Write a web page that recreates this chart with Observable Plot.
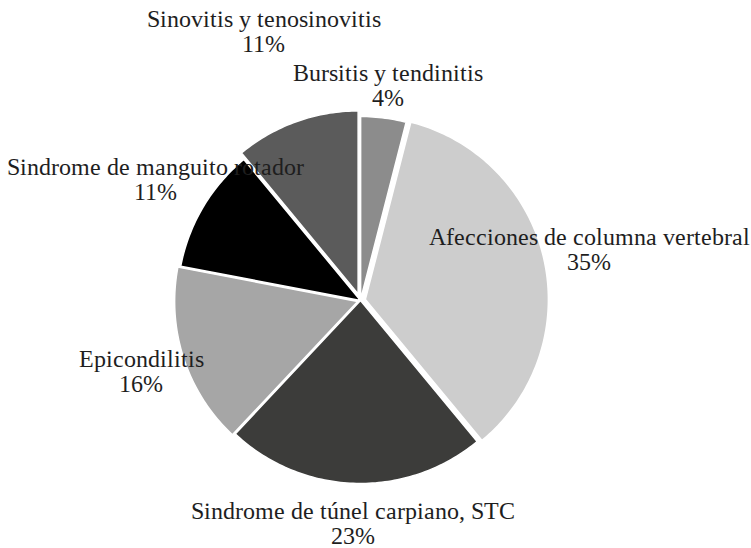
<!DOCTYPE html>
<html>
<head>
<meta charset="utf-8">
<script src="https://cdn.jsdelivr.net/npm/d3@7"></script>
<script src="https://cdn.jsdelivr.net/npm/@observablehq/plot@0.6"></script>
<style>
  @font-face {
    font-family: "SerifLocal";
    src: local("Liberation Serif"), local("LiberationSerif"), local("LiberationSerif-Regular");
  }
  html, body { margin: 0; padding: 0; background: #fff; font-family: "Liberation Serif", serif; }
  #chart svg { display: block; }
  #chart svg text { font-family: "SerifLocal", "Liberation Serif", serif; }
</style>
</head>
<body>
<div id="chart"></div>
<script>
// ---- Data ----
const categories = [
  "Bursitis y tendinitis",
  "Afecciones de columna vertebral",
  "Sindrome de túnel carpiano, STC",
  "Epicondilitis",
  "Sindrome de manguito rotador",
  "Sinovitis y tenosinovitis"
];
const percents = [4, 35, 23, 16, 11, 11];
const colors = ["#8c8c8c", "#cdcdcd", "#3c3c3a", "#a6a6a6", "#000000", "#5b5b5b"];

// ---- Layout (styles / positions, separate from data) ----
const W = 751, H = 548;
const CX = 360, CY = 300, R = 183;          // pie centre & radius in px
const explodePx = [1, 5, 0, 3, 0, 7];       // per-slice explosion in px
const labelRadius = [1.18, 1.28, 1.22, 1.26, 1.30, 1.56];
const LINE_GAP = 25;                          // px between label lines
const FONT = "SerifLocal, Liberation Serif, serif";

const arcs = d3.pie().sort(null).value(d => d)(percents);

const slices = arcs.map((a, i) => {
  const mid = (a.startAngle + a.endAngle) / 2;
  const o = explodePx[i] / R;
  const cx = o * Math.sin(mid), cy = o * Math.cos(mid);
  const pts = [{x: cx, y: cy}];
  const n = Math.max(8, Math.ceil((a.endAngle - a.startAngle) / (Math.PI / 180)));
  for (let k = 0; k <= n; k++) {
    const t = a.startAngle + (a.endAngle - a.startAngle) * k / n;
    pts.push({x: cx + Math.sin(t), y: cy + Math.cos(t)});
  }
  pts.push({x: cx, y: cy});
  return pts;
});

const labels = arcs.map((a, i) => {
  const mid = (a.startAngle + a.endAngle) / 2;
  const r = labelRadius[i];
  return {
    x: r * Math.sin(mid),
    y: r * Math.cos(mid),
    name: categories[i],
    pct: percents[i] + "%"
  };
});

const textStyle = {
  x: "x", y: "y",
  fontSize: 24,
  fontFamily: FONT,
  textAnchor: "middle",
  fill: "#1e1e1e"
};

function render() {
  const chart = Plot.plot({
    width: W,
    height: H,
    margin: 0,
    x: {domain: [-CX / R, (W - CX) / R], axis: null},
    y: {domain: [-(H - CY) / R, CY / R], axis: null},
    style: {background: "#fff"},
    marks: [
      ...slices.map((pts, i) => Plot.line(pts, {
        x: "x", y: "y",
        fill: colors[i],
        stroke: "#ffffff",
        strokeWidth: 1.5,
        strokeLinejoin: "round"
      })),
      Plot.text(labels, {...textStyle, text: "name", dy: -LINE_GAP / 2}),
      Plot.text(labels, {...textStyle, text: "pct", dy: LINE_GAP / 2})
    ]
  });
  const host = document.getElementById("chart");
  host.replaceChildren(chart);
}

render();
if (document.fonts && document.fonts.load) {
  document.fonts.load("24px SerifLocal").then(render).catch(() => {});
}
</script>
</body>
</html>
